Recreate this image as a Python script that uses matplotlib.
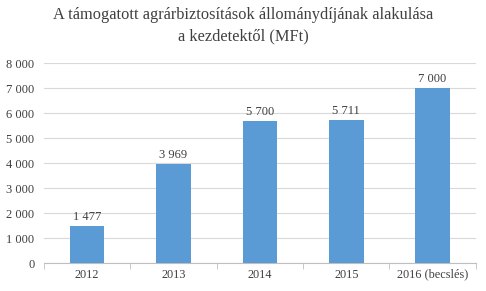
import matplotlib.pyplot as plt
import numpy as np

years = ['2012', '2013', '2014', '2015', '2016 (becslés)']
values = [1477, 3969, 5700, 5711, 7000]
labels = ['1 477', '3 969', '5 700', '5 711', '7 000']
yticks = [0, 1000, 2000, 3000, 4000, 5000, 6000, 7000, 8000]

plt.rcParams['font.family'] = ['Liberation Serif', 'DejaVu Serif']

fig = plt.figure(figsize=(4.86, 2.91), dpi=100)
ax = fig.add_axes([0.0905, 0.0962, 0.8885, 0.6873])

x = np.arange(len(years))
ax.bar(x, values, width=0.4, color='#5B9BD5', zorder=3)
for xi, v, lab in zip(x, values, labels):
    ax.text(xi, v + 120, lab, ha='center', va='bottom', fontsize=9, color='#404040')

ax.set_xlim(-0.5, len(years) - 0.5)
ax.set_ylim(0, 8000)
ax.set_yticks(yticks)
ax.set_yticklabels(['{:,}'.format(t).replace(',', ' ') for t in yticks])
ax.grid(axis='y', color='#D9D9D9', linewidth=0.8, zorder=0)

ax.set_xticks(x)
ax.set_xticklabels(years)
ax.set_xticks(np.arange(-0.5, len(years)), minor=True)
ax.tick_params(axis='x', which='major', length=0, pad=4, labelsize=8.8, colors='#404040')
ax.tick_params(axis='x', which='minor', length=4, color='#BFBFBF')
ax.tick_params(axis='y', length=0, pad=7, labelsize=9, colors='#404040')

for s in ['top', 'right', 'left']:
    ax.spines[s].set_visible(False)
ax.spines['bottom'].set_color('#BFBFBF')

fig.text(0.5, 0.975, 'A támogatott agrárbiztosítások állománydíjának alakulása\na kezdetektől (MFt)',
         ha='center', va='top', multialignment='center', fontsize=11.8, color='#404040',
         linespacing=1.45)

fig.savefig('out.png', dpi=100)
